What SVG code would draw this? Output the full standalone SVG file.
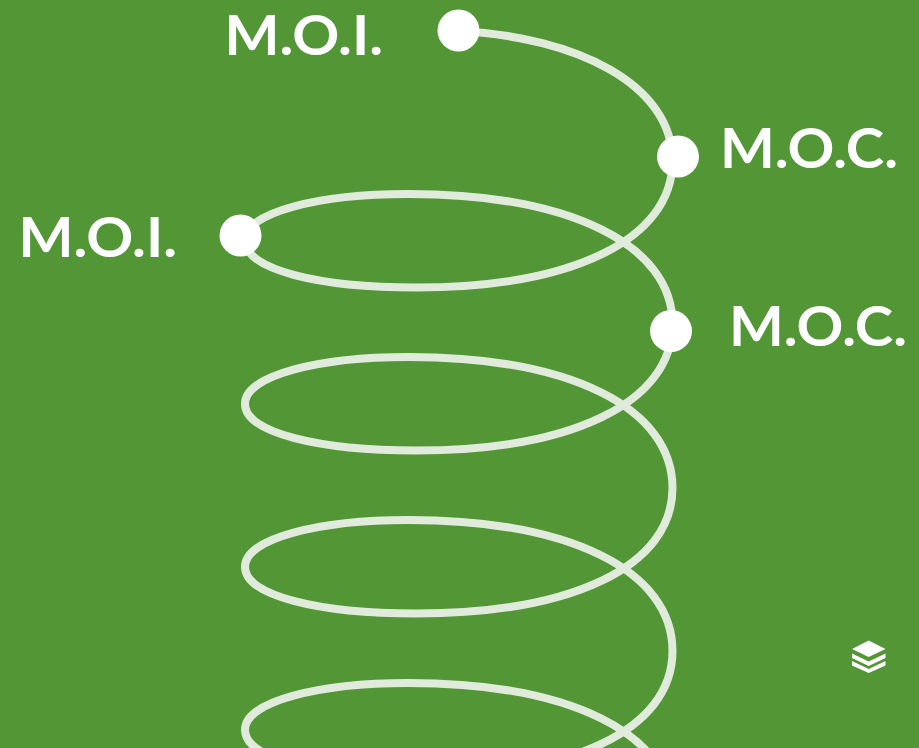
<svg xmlns="http://www.w3.org/2000/svg" width="919" height="748" viewBox="0 0 919 748">
<style>
.bg{fill:#529636}
.wire{fill:none;stroke:#e0ebdc;stroke-width:8}
.dot{fill:#fff}
.lbl{fill:#fff;font-family:"Lato","Open Sans",sans-serif;font-size:56px;font-weight:700}
</style>
<rect class="bg" width="919" height="748"/>
<g id="connectors">
<path class="wire" d="M458.500 31C578 37 672.500 85 672.500 161C672.500 240 571 287.500 416 287.500C320 287.500 245 270 245 240.500C245 212 320 194 408 194C571 194 672.500 245 672.500 324C672.500 403 571 450.500 416 450.500C320 450.500 245 433 245 404C245 375 320 357 408 357C571 357 672.500 408 672.500 488C672.500 567 571 613.500 416 613.500C320 613.500 245 596 245 567C245 538 320 520 408 520C571 520 672.500 571 672.500 651C672.500 730 571 776.500 416 776.500C320 776.500 245 759 245 730C245 701 320 683 408 683C571 683 672.500 734 672.500 814"/>
</g>
<g id="node-moi-1"><circle class="dot" cx="458.500" cy="30.500" r="21"/><text class="lbl" x="224.500" y="55" textLength="158.500" lengthAdjust="spacingAndGlyphs">M.O.I.</text></g>
<g id="node-moc-1"><circle class="dot" cx="678" cy="156.500" r="21"/><text class="lbl" x="720" y="168" textLength="178" lengthAdjust="spacingAndGlyphs">M.O.C.</text></g>
<g id="node-moi-2"><circle class="dot" cx="240.500" cy="235.500" r="21"/><text class="lbl" x="18.500" y="257" textLength="158.500" lengthAdjust="spacingAndGlyphs">M.O.I.</text></g>
<g id="node-moc-2"><circle class="dot" cx="671" cy="331" r="21"/><text class="lbl" x="729" y="346" textLength="178" lengthAdjust="spacingAndGlyphs">M.O.C.</text></g>
<g id="icon" fill="#fff">
<path d="M868.700 640.500L885.500 649L868.700 657L852 649Z"/>
<path d="M852 653.500L868.700 661.500L885.500 653.500V658L868.700 666L852 658Z"/>
<path d="M852 661L868.700 669L885.500 661V665.500L868.700 673L852 665.500Z"/>
</g>
</svg>
